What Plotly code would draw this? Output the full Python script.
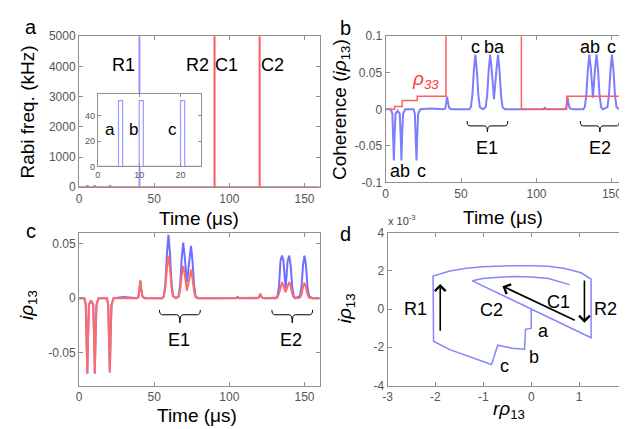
import plotly.graph_objects as go

W, H = 627, 429
FONT = "Liberation Sans, Arial, sans-serif"
AX = "#8f8f8f"
TICK = "#555555"
BLUE = "#7d7dff"
RED = "#ff5f5f"


def px(x):
    return x / W


def py(y):
    return 1 - y / H


# ---------------- panel a : Rabi frequencies ----------------
a_time = [0, 5, 5, 6, 6, 10, 10, 11, 11, 20, 20, 21, 21, 40, 40, 40.4, 40.4, 160]
a_probe = [0, 0, 52, 52, 0, 0, 52, 52, 0, 0, 52, 52, 0, 0, 9000, 9000, 0, 0]
a_ctrl_time = [0, 90, 90, 90.3, 90.3, 120, 120, 120.3, 120.3, 160]
a_ctrl = [0, 0, 9000, 9000, 0, 0, 9000, 9000, 0, 0]
a_xticks = [0, 50, 100, 150]
a_yticks = [0, 1000, 2000, 3000, 4000, 5000]
inset_xticks = [0, 10, 20]
inset_yticks = [0, 20, 40]

# ---------------- panels b, c : coherence ----------------
t_coh = [0, 3.5, 4.5, 5.0, 5.5, 6.0, 6.6, 8.0, 9.4, 10.0, 10.5, 11.0, 11.6, 13.0,
         18.5, 19.4, 20.0, 20.5, 21.0, 21.6, 23.0, 30.0, 38.5, 39.5, 40.3, 40.8,
         41.3, 42.1, 43.5, 55.5, 56.5, 57.5, 58.5, 59.5, 60.5, 61.5, 62.5, 64.5,
         66.3, 67.3, 68.3, 69.3, 70.3, 71.8, 73.5, 74.5, 75.5, 76.5, 77.5, 79.0,
         90.0, 104.5, 105.5, 106.5, 118.5, 119.5, 120.1, 120.6, 121.1, 121.9, 123.5,
         131.0, 132.0, 133.0, 134.0, 135.0, 136.0, 137.4, 138.8, 139.8, 140.8, 141.8,
         142.8, 144.0, 147.0, 148.0, 149.0, 150.0, 151.0, 152.0, 153.0, 155.0, 160.0]
b_coh = [0, 0, -0.006, -0.035, -0.070, -0.035, -0.006, -0.002, -0.006, -0.035, -0.070, -0.035, -0.006, 0,
         0, -0.006, -0.035, -0.070, -0.035, -0.006, 0, 0.001, 0, 0.001, 0.010, 0.0175,
         0.010, 0.002, 0, 0, 0.003, 0.019, 0.053, 0.075, 0.053, 0.019, 0.003, 0,
         0.003, 0.019, 0.053, 0.075, 0.055, 0.014, 0.055, 0.075, 0.053, 0.019, 0.003, 0,
         0, 0, 0.002, 0, 0, 0.001, 0.009, 0.0165, 0.009, 0.002, 0,
         0, 0.003, 0.019, 0.053, 0.075, 0.056, 0.016, 0.056, 0.075, 0.053, 0.019,
         0.003, 0, 0.003, 0.019, 0.053, 0.075, 0.053, 0.019, 0.003, 0, 0]
c_coh_blue = [0, 0, -0.006, -0.034, -0.069, -0.034, -0.006, -0.002, -0.006, -0.034, -0.069, -0.034, -0.006, 0,
              0, -0.006, -0.034, -0.068, -0.034, -0.006, 0, 0.001, 0, 0.001, 0.009, 0.016,
              0.009, 0.002, 0, 0, 0.0023, 0.0145, 0.041, 0.058, 0.041, 0.0145, 0.0023, 0,
              0.002, 0.0128, 0.036, 0.051, 0.038, 0.0146, 0.036, 0.048, 0.034, 0.012, 0.002, 0,
              0, 0, 0.001, 0, 0, 0.0005, 0.002, 0.004, 0.002, 0.0005, 0,
              0, 0.002, 0.010, 0.034, 0.039, 0.034, 0.009, 0.034, 0.039, 0.030, 0.010,
              0.002, 0, 0.002, 0.010, 0.030, 0.039, 0.030, 0.010, 0.002, 0, 0]
c_coh_red = [0, 0, -0.006, -0.034, -0.069, -0.034, -0.006, -0.002, -0.006, -0.034, -0.069, -0.034, -0.006, 0,
             0, -0.006, -0.034, -0.068, -0.034, -0.006, 0, 0, 0, 0.001, 0.009, 0.016,
             0.009, 0.002, 0, 0, 0.0016, 0.010, 0.028, 0.039, 0.028, 0.010, 0.0016, 0,
             0.0012, 0.0074, 0.021, 0.0295, 0.022, 0.007, 0.019, 0.026, 0.018, 0.0065, 0.001, 0,
             0, 0, 0, 0, 0, 0.0005, 0.002, 0.004, 0.002, 0.0005, 0,
             0, 0.0006, 0.004, 0.011, 0.0146, 0.011, 0.0056, 0.011, 0.0146, 0.011, 0.004,
             0.0006, 0, 0.0006, 0.0035, 0.010, 0.014, 0.010, 0.0035, 0.0006, 0, 0]
rho33_time = [0, 6, 11, 21, 40, 90, 120, 160]
rho33 = [0, 0.004, 0.012, 0.018, 0.5, 0, 0.018, 0.018]
b_yticks = [-0.1, -0.05, 0, 0.05, 0.1]
b_yticklabels = ["-0.1", "-0.05", "0", "0.05", "0.1"]
c_yticks = [-0.05, 0, 0.05]
c_yticklabels = ["-0.05", "0", "0.05"]

# ---------------- panel d : Bloch-plane trajectory ----------------
d_r = [0, 0, -0.12, -0.14, -0.40, -0.70, -0.83, -1.36, -1.70, -2.04, -2.05, -1.70, -1.36,
       -1.01, -0.67, -0.33, 0.01, 0.36, 0.70, 1.04, 1.25, 1.25, -1.23, -1.01, -0.67,
       -0.33, 0.01, 0.36, 0.80]
d_i = [0, -1.0, -1.06, -2.10, -2.05, -1.89, -2.90, -2.45, -2.12, -1.68, 1.73, 1.99, 2.14,
       2.22, 2.26, 2.27, 2.27, 2.24, 2.12, 1.90, 1.57, -1.50, 1.48, 1.60, 1.67,
       1.70, 1.68, 1.60, 1.28]
d_xticks = [-3, -2, -1, 0, 1, 2]
d_yticks = [-4, -2, 0, 2, 4]


def ax(domain, rng, tickvals, ticktext, anchor, fs=12, ticklen=4):
    return dict(domain=domain, range=rng, tickvals=tickvals, ticktext=ticktext,
                anchor=anchor, showline=True, linecolor=AX, linewidth=1,
                mirror="ticks", ticks="inside", ticklen=ticklen, tickcolor=AX,
                tickwidth=1, showgrid=False, zeroline=False, fixedrange=True,
                tickfont=dict(family=FONT, size=fs, color=TICK))


fig = go.Figure()

# a
fig.add_trace(go.Scatter(x=a_time, y=a_probe, mode="lines", xaxis="x", yaxis="y",
                         line=dict(color="#9494ff", width=1.3), showlegend=False))
fig.add_trace(go.Scatter(x=a_ctrl_time, y=a_ctrl, mode="lines", xaxis="x", yaxis="y",
                         line=dict(color=RED, width=1.6), showlegend=False))
# b
fig.add_trace(go.Scatter(x=t_coh, y=b_coh, mode="lines", xaxis="x2", yaxis="y2",
                         line=dict(color=BLUE, width=2), showlegend=False))
fig.add_trace(go.Scatter(x=rho33_time, y=rho33, mode="lines", xaxis="x2", yaxis="y2",
                         line=dict(color=RED, width=1.5, shape="hv"), showlegend=False))
# c
fig.add_trace(go.Scatter(x=t_coh, y=c_coh_blue, mode="lines", xaxis="x3", yaxis="y3",
                         line=dict(color="#6f6fff", width=2), showlegend=False))
fig.add_trace(go.Scatter(x=t_coh, y=c_coh_red, mode="lines", xaxis="x3", yaxis="y3",
                         line=dict(color="#ff6a6a", width=2), showlegend=False))
# d
fig.add_trace(go.Scatter(x=d_r, y=d_i, mode="lines", xaxis="x4", yaxis="y4",
                         line=dict(color="#8585ff", width=1.5), showlegend=False))
# inset of a
fig.add_trace(go.Scatter(x=a_time, y=a_probe, mode="lines", xaxis="x5", yaxis="y5",
                         line=dict(color="#9a9aff", width=1.2), showlegend=False))

xa = [px(67), px(311)]
xb = [px(378), px(623)]
xd = [px(380), px(623)]

layout = dict(
    width=W, height=H, autosize=False,
    margin=dict(l=0, r=0, t=0, b=0),
    paper_bgcolor="white", plot_bgcolor="white",
    font=dict(family=FONT, color="black"),
    xaxis=ax(xa, [0, 160], a_xticks, [str(v) for v in a_xticks], "y"),
    yaxis=ax([py(178), py(22)], [0, 5000], a_yticks, [str(v) for v in a_yticks], "x"),
    xaxis2=ax(xb, [0, 160], a_xticks, [str(v) for v in a_xticks], "y2"),
    yaxis2=ax([py(173), py(22)], [-0.1, 0.1], b_yticks, b_yticklabels, "x2"),
    xaxis3=ax(xa, [0, 160], a_xticks, [str(v) for v in a_xticks], "y3"),
    yaxis3=ax([py(383), py(225)], [-0.08, 0.06], c_yticks, c_yticklabels, "x3"),
    xaxis4=ax(xd, [-3, 2], d_xticks, [str(v) for v in d_xticks], "y4"),
    yaxis4=ax([py(383), py(225)], [-4, 4], d_yticks, [str(v) for v in d_yticks], "x4"),
    xaxis5=ax([px(86), px(191)], [0, 25], inset_xticks, [str(v) for v in inset_xticks], "y5", fs=9, ticklen=3),
    yaxis5=ax([py(156.5), py(82)], [0, 57], inset_yticks, [str(v) for v in inset_yticks], "x5", fs=9, ticklen=3),
)

ann = []


def txt(text, x, y, xref="paper", yref="paper", size=18, color="black", angle=0, xanchor="center"):
    ann.append(dict(text=text, x=x, y=y, xref=xref, yref=yref, showarrow=False,
                    font=dict(family=FONT, size=size, color=color), textangle=angle,
                    xanchor=xanchor, yanchor="middle"))


# panel letters
txt("a", px(18), py(12), size=20)
txt("b", px(337), py(13), size=20)
txt("c", px(18), py(223), size=20)
txt("d", px(337), py(226), size=20)

# axis titles
txt("Time (μs)", px(189), py(210), size=19)
txt("Time (μs)", px(497), py(209), size=19)
txt("Time (μs)", px(187), py(414), size=19)
txt("<i>r</i><i>ρ</i><sub>13</sub>", px(503), py(408), size=19)
txt("Rabi freq. (kHz)", px(15), py(100), size=19, angle=-90)
txt("Coherence (<i>iρ</i><sub>13</sub>)", px(333), py(98), size=19, angle=-90)
txt("<i>iρ</i><sub>13</sub>", px(15), py(300), size=19, angle=-90)
txt("<i>iρ</i><sub>13</sub>", px(338), py(303), size=19, angle=-90)
txt("x 10<sup>-3</sup>", px(378), py(212), size=11, color="#444444", xanchor="left")

# panel a labels
for s, t in [("R1", 29.5), ("R2", 78.7), ("C1", 98.4), ("C2", 128.5)]:
    txt(s, t, 4040, "x", "y", size=18)
for s, t in [("a", 2.9), ("b", 8.6), ("c", 18.1)]:
    txt(s, t, 29.5, "x5", "y5", size=17)

# panel b labels
for s, t, v in [("ab", 9.8, -0.085), ("c", 23.9, -0.085), ("c", 59.7, 0.086),
                ("ba", 72.5, 0.086), ("ab", 135.3, 0.086), ("c", 149.5, 0.086),
                ("E1", 67.5, -0.053), ("E2", 142, -0.053)]:
    txt(s, t, v, "x2", "y2", size=18)
txt("<i>ρ</i><sub><i>33</i></sub>", 26.3, 0.040, "x2", "y2", size=19, color="#ff3b3b")

# panel c labels
txt("E1", 66.5, -0.0384, "x3", "y3", size=18)
txt("E2", 141, -0.0384, "x3", "y3", size=18)

# panel d labels
for s, r, i in [("R1", -2.42, 0), ("C2", -0.84, -0.03), ("C1", 0.56, 0.35),
                ("R2", 1.55, 0), ("a", 0.25, -1.13), ("b", 0.06, -2.5), ("c", -0.55, -3.0)]:
    txt(s, r, i, "x4", "y4", size=18)

# arrows in d
for (x0, y0, x1, y1) in [(-1.9, -1.21, -1.9, 1.31), (1.11, 1.57, 1.11, -0.71), (0.94, -0.62, -0.60, 1.20)]:
    ann.append(dict(x=x1, y=y1, ax=x0, ay=y0, xref="x4", yref="y4", axref="x4", ayref="y4",
                    showarrow=True, arrowhead=4, arrowsize=1.3, arrowwidth=1.6,
                    arrowcolor="black", text=""))

layout["annotations"] = ann


# curly braces
def brace(x0, x1, ye, ym, yt, d, xr, yr):
    xc = (x0 + x1) / 2
    p = (f"M{x0},{ye} Q{x0},{ym} {x0 + d},{ym} L{xc - d},{ym} Q{xc},{ym} {xc},{yt} "
         f"M{xc},{yt} Q{xc},{ym} {xc + d},{ym} L{x1 - d},{ym} Q{x1},{ym} {x1},{ye}")
    return dict(type="path", path=p, xref=xr, yref=yr, line=dict(color="black", width=1))


layout["shapes"] = [
    brace(54, 81, -0.016, -0.0227, -0.031, 2, "x2", "y2"),
    brace(129, 155, -0.016, -0.0227, -0.031, 2, "x2", "y2"),
    brace(53.5, 80.7, -0.0107, -0.0152, -0.0226, 2, "x3", "y3"),
    brace(128.3, 155.4, -0.0107, -0.0152, -0.0226, 2, "x3", "y3"),
]

fig.update_layout(**layout)
fig.write_html("out.html", config={"displayModeBar": False})
